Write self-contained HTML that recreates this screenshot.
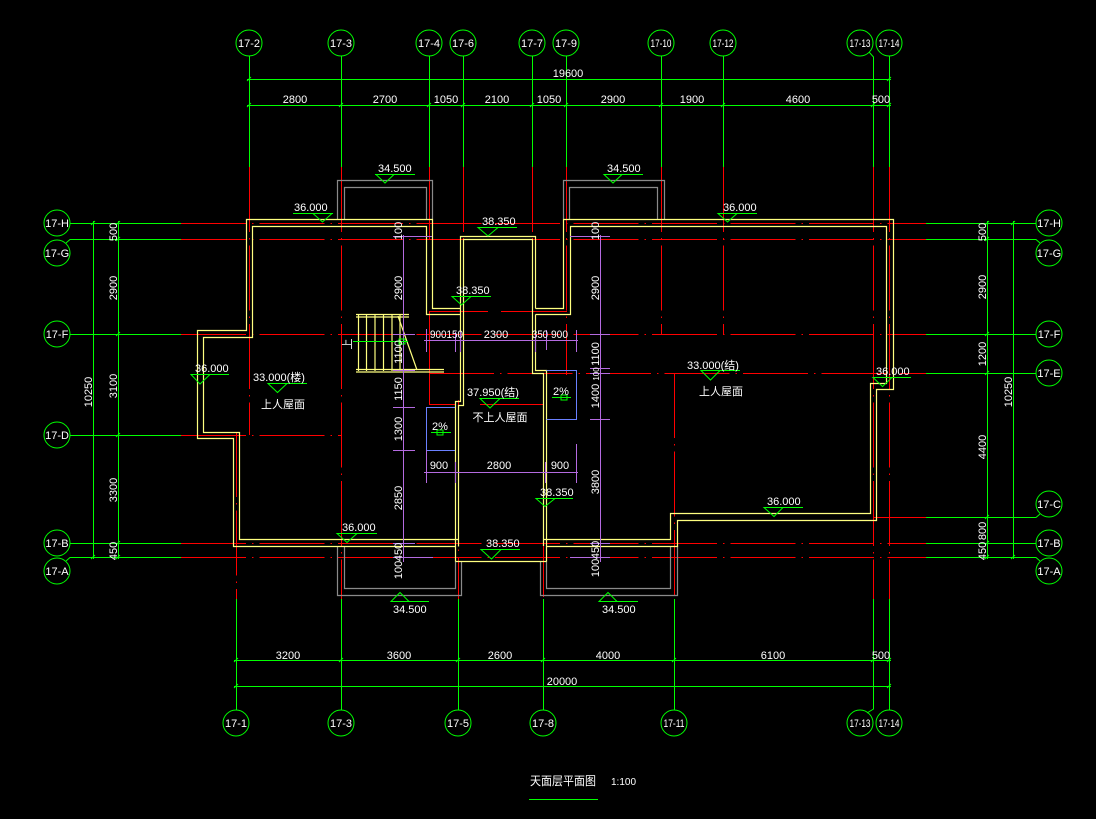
<!DOCTYPE html>
<html><head><meta charset="utf-8">
<style>
html,body{margin:0;padding:0;background:#000;}
svg{display:block}
text{font-family:"Liberation Sans","Noto Sans CJK SC",sans-serif;fill:#fff;font-size:11px}
.b{font-size:10px}
.s{font-size:8px}
.r{stroke:#ff0000;fill:none;stroke-width:1}
.rd{stroke:#ff0000;fill:none;stroke-width:1;stroke-dasharray:65 6 1.5 6}
.g{stroke:#00ff00;fill:none;stroke-width:1}
.y{stroke:#ffff80;fill:none;stroke-width:1.2}
.gr{stroke:#8a8a8a;fill:none;stroke-width:1.2}
.p{stroke:#b46ae0;fill:none;stroke-width:1}
.bl{stroke:#6a80ff;fill:none;stroke-width:1}
</style></head><body>
<svg width="1096" height="819" viewBox="0 0 1096 819" xmlns="http://www.w3.org/2000/svg">
<rect width="1096" height="819" fill="#000"/>

<!-- RED AXES horizontal -->
<g class="rd">
<line x1="181" y1="223.5" x2="926" y2="223.5"/>
<line x1="181" y1="239.5" x2="926" y2="239.5"/>
<line x1="181" y1="334.5" x2="926" y2="334.5"/>
<line x1="429" y1="373.5" x2="926" y2="373.5"/>
<line x1="181" y1="435.5" x2="341" y2="435.5"/>
<line x1="873" y1="517.5" x2="926" y2="517.5"/>
<line x1="181" y1="543.5" x2="926" y2="543.5"/>
<line x1="181" y1="557.5" x2="926" y2="557.5"/>
</g>
<!-- RED AXES vertical -->
<g class="rd">
<line x1="249.5" y1="167" x2="249.5" y2="435"/>
<line x1="236.5" y1="432" x2="236.5" y2="599"/>
<line x1="341.5" y1="167" x2="341.5" y2="599"/>
<line x1="463.5" y1="167" x2="463.5" y2="405"/>
<line x1="458.5" y1="400" x2="458.5" y2="599"/>
<line x1="532.5" y1="167" x2="532.5" y2="340"/>
<line x1="543.5" y1="375" x2="543.5" y2="599"/>
<line x1="566.5" y1="167" x2="566.5" y2="375"/>
<line x1="661.5" y1="167" x2="661.5" y2="334"/>
<line x1="674.5" y1="373" x2="674.5" y2="599"/>
<line x1="723.5" y1="167" x2="723.5" y2="334"/>
<line x1="873.5" y1="167" x2="873.5" y2="599"/>
<line x1="889.5" y1="167" x2="889.5" y2="599"/>
</g>
<g class="r">
<line x1="429.5" y1="167" x2="429.5" y2="240"/>
<line x1="429.5" y1="311" x2="429.5" y2="404"/>
<line x1="430" y1="311.5" x2="488" y2="311.5"/>
<line x1="501" y1="311.5" x2="567" y2="311.5"/>
<line x1="429" y1="404.5" x2="455" y2="404.5"/>
<line x1="480" y1="404.5" x2="543" y2="404.5"/>
<line x1="532.5" y1="167" x2="532.5" y2="220"/>
<line x1="566.5" y1="167" x2="566.5" y2="220"/>
</g>

<!-- GRAY BALCONIES -->
<g class="gr">
<polyline points="337.5,219 337.5,180.5 432.5,180.5 432.5,219"/>
<polyline points="344.5,219 344.5,187.5 426.5,187.5 426.5,219"/>
<polyline points="563.5,219 563.5,180.5 664.5,180.5 664.5,219"/>
<polyline points="569.5,219 569.5,187.5 657.5,187.5 657.5,219"/>
<polyline points="337.5,546 337.5,595.5 461.5,595.5 461.5,561"/>
<polyline points="344.5,546 344.5,588.5 455.5,588.5 455.5,561"/>
<polyline points="540.5,561 540.5,595.5 677.5,595.5 677.5,546"/>
<polyline points="546.5,561 546.5,588.5 670.5,588.5 670.5,546"/>
</g>

<!-- YELLOW WALLS -->
<g class="y">
<polyline points="455.5,546.5 233.5,546.5 233.5,438.5 197.5,438.5 197.5,330.5 246.5,330.5 246.5,219.5 432.5,219.5 432.5,308.5 460.5,308.5"/>
<polyline points="458.5,539.5 239.5,539.5 239.5,432.5 203.5,432.5 203.5,337.5 252.5,337.5 252.5,226.5 426.5,226.5 426.5,314.5 460.5,314.5"/>
<polyline points="455.5,561.5 455.5,401.5 460.5,401.5 460.5,236.5 535.5,236.5 535.5,308.5"/>
<polyline points="458.5,546.5 458.5,405.5 463.5,405.5 463.5,239.5 532.5,239.5 532.5,373.5 543.5,373.5 543.5,546"/>
<polyline points="535.5,314.5 535.5,370.5 546.5,370.5 546.5,561.5"/>
<line x1="455.5" y1="561.5" x2="546.5" y2="561.5"/>
<polyline points="535.5,308.5 563.5,308.5 563.5,219.5 893.5,219.5 893.5,389.5 876.5,389.5 876.5,520.5 677.5,520.5 677.5,546.5 546.5,546.5"/>
<polyline points="535.5,314.5 570.5,314.5 570.5,226.5 886.5,226.5 886.5,383.5 870.5,383.5 870.5,513.5 670.5,513.5 670.5,539.5 543.5,539.5"/>
<!-- stairs -->
<line x1="356" y1="314.5" x2="409" y2="314.5"/>
<line x1="356" y1="317" x2="409" y2="317"/>
<line x1="356" y1="369.5" x2="444" y2="369.5"/>
<line x1="356" y1="372" x2="444" y2="372"/>
<line x1="358.5" y1="315" x2="358.5" y2="371"/>
<line x1="366.5" y1="315" x2="366.5" y2="371"/>
<line x1="375" y1="315" x2="375" y2="371"/>
<line x1="383.5" y1="315" x2="383.5" y2="371"/>
<line x1="392" y1="315" x2="392" y2="371"/>
<line x1="400" y1="315" x2="400" y2="371"/>
<line x1="398" y1="316" x2="417" y2="370"/>
</g>

<!-- BLUE -->
<g class="bl">
<polyline points="455,407.5 426.5,407.5 426.5,450.5 455,450.5"/>
<polyline points="546.5,370.5 576.5,370.5 576.5,419.5 546.5,419.5"/>
</g>

<!-- PURPLE dims -->
<g class="p">
<line x1="403.5" y1="235" x2="403.5" y2="562"/>
<line x1="600.5" y1="235" x2="600.5" y2="562"/>
<line x1="393" y1="236.5" x2="432" y2="236.5"/>
<line x1="393" y1="334.5" x2="415" y2="334.5"/>
<line x1="393" y1="370.5" x2="415" y2="370.5"/>
<line x1="393" y1="407.5" x2="415" y2="407.5"/>
<line x1="393" y1="450.5" x2="415" y2="450.5"/>
<line x1="393" y1="543.5" x2="415" y2="543.5"/>
<line x1="393" y1="557.5" x2="433" y2="557.5"/>
<line x1="570" y1="236.5" x2="610" y2="236.5"/>
<line x1="590" y1="334.5" x2="610" y2="334.5"/>
<line x1="590" y1="368.5" x2="610" y2="368.5"/>
<line x1="590" y1="373.5" x2="610" y2="373.5"/>
<line x1="590" y1="419.5" x2="610" y2="419.5"/>
<line x1="590" y1="543.5" x2="610" y2="543.5"/>
<line x1="570" y1="557.5" x2="610" y2="557.5"/>
<line x1="424" y1="340.5" x2="578" y2="340.5"/>
<line x1="426.5" y1="329" x2="426.5" y2="352"/>
<line x1="455.5" y1="332" x2="455.5" y2="352"/>
<line x1="460.5" y1="332" x2="460.5" y2="352"/>
<line x1="535.5" y1="334" x2="535.5" y2="352"/>
<line x1="546.5" y1="330" x2="546.5" y2="350"/>
<line x1="576.5" y1="330" x2="576.5" y2="352"/>
<line x1="424" y1="472.5" x2="578" y2="472.5"/>
<line x1="426.5" y1="450" x2="426.5" y2="483"/>
<line x1="455.5" y1="462" x2="455.5" y2="483"/>
<line x1="545.5" y1="462" x2="545.5" y2="483"/>
<line x1="576.5" y1="444" x2="576.5" y2="483"/>
</g>

<!-- GREEN GRID EXTENSIONS -->
<g class="g">
<line x1="249.5" y1="56" x2="249.5" y2="167"/>
<line x1="341.5" y1="56" x2="341.5" y2="167"/>
<line x1="429.5" y1="56" x2="429.5" y2="167"/>
<line x1="463.5" y1="56" x2="463.5" y2="167"/>
<line x1="532.5" y1="56" x2="532.5" y2="167"/>
<line x1="566.5" y1="56" x2="566.5" y2="167"/>
<line x1="661.5" y1="56" x2="661.5" y2="167"/>
<line x1="723.5" y1="56" x2="723.5" y2="167"/>
<polyline points="873.5,167 873.5,57 869,52"/>
<line x1="889.5" y1="56" x2="889.5" y2="167"/>
<!-- top dims -->
<line x1="247" y1="79.5" x2="891" y2="79.5"/>
<line x1="247" y1="105.5" x2="891" y2="105.5"/>
<!-- bottom -->
<line x1="236.5" y1="599" x2="236.5" y2="710"/>
<line x1="341.5" y1="599" x2="341.5" y2="710"/>
<line x1="458.5" y1="599" x2="458.5" y2="710"/>
<line x1="543.5" y1="599" x2="543.5" y2="710"/>
<line x1="674.5" y1="599" x2="674.5" y2="710"/>
<polyline points="873.5,599 873.5,709 867,713"/>
<line x1="889.5" y1="599" x2="889.5" y2="710"/>
<line x1="234" y1="660.5" x2="891" y2="660.5"/>
<line x1="234" y1="686.5" x2="891" y2="686.5"/>
<!-- left -->
<line x1="70" y1="223.5" x2="181" y2="223.5"/>
<polyline points="181,239.5 70,239.5 66,243"/>
<line x1="70" y1="334.5" x2="181" y2="334.5"/>
<line x1="70" y1="435.5" x2="181" y2="435.5"/>
<line x1="70" y1="543.5" x2="181" y2="543.5"/>
<polyline points="181,557.5 70,557.5 66,561"/>
<line x1="93.5" y1="221" x2="93.5" y2="559"/>
<line x1="118.5" y1="221" x2="118.5" y2="559"/>
<!-- right -->
<line x1="926" y1="223.5" x2="1036" y2="223.5"/>
<polyline points="926,239.5 1036,239.5 1040,243"/>
<line x1="926" y1="334.5" x2="1036" y2="334.5"/>
<line x1="926" y1="373.5" x2="1036" y2="373.5"/>
<polyline points="926,517.5 1036,517.5 1040,514"/>
<line x1="926" y1="543.5" x2="1036" y2="543.5"/>
<polyline points="926,557.5 1036,557.5 1040,561"/>
<line x1="987.5" y1="221" x2="987.5" y2="559"/>
<line x1="1013.5" y1="221" x2="1013.5" y2="559"/>
<!-- title underline -->
<line x1="529" y1="799.5" x2="598" y2="799.5"/>
<!-- stair arrow -->
<line x1="353" y1="341.5" x2="408" y2="341.5"/>
<rect x="399" y="339" width="6" height="5"/>
<!-- 2% arrows -->
<line x1="431" y1="432.5" x2="451" y2="432.5"/>
<rect x="437" y="430" width="6" height="5"/>
<line x1="552" y1="397.5" x2="571" y2="397.5"/>
<rect x="561" y="395" width="6" height="5"/>
</g>

<!-- ticks -->
<g class="g">
<path d="M247,81 l4,-4 M887,81 l4,-4
M247,107 l4,-4 M339,107 l4,-4 M427,107 l4,-4 M461,107 l4,-4 M530,107 l4,-4 M564,107 l4,-4 M659,107 l4,-4 M721,107 l4,-4 M871,107 l4,-4 M887,107 l4,-4
M234,662 l4,-4 M339,662 l4,-4 M456,662 l4,-4 M541,662 l4,-4 M672,662 l4,-4 M871,662 l4,-4 M887,662 l4,-4
M234,688 l4,-4 M887,688 l4,-4
M91,225 l4,-4 M91,559 l4,-4
M116,225 l4,-4 M116,241 l4,-4 M116,336 l4,-4 M116,437 l4,-4 M116,545 l4,-4 M116,559 l4,-4
M985,225 l4,-4 M985,241 l4,-4 M985,336 l4,-4 M985,375 l4,-4 M985,519 l4,-4 M985,545 l4,-4 M985,559 l4,-4
M1011,225 l4,-4 M1011,559 l4,-4"/>
</g>

<!-- BUBBLES -->
<g class="g">
<circle cx="249" cy="43" r="13"/><circle cx="341" cy="43" r="13"/><circle cx="429" cy="43" r="13"/>
<circle cx="463" cy="43" r="13"/><circle cx="532" cy="43" r="13"/><circle cx="566" cy="43" r="13"/>
<circle cx="661" cy="43" r="13"/><circle cx="723" cy="43" r="13"/><circle cx="860" cy="43" r="13"/>
<circle cx="889" cy="43" r="13"/>
<circle cx="236" cy="723" r="13"/><circle cx="341" cy="723" r="13"/><circle cx="458" cy="723" r="13"/>
<circle cx="543" cy="723" r="13"/><circle cx="674" cy="723" r="13"/><circle cx="860" cy="723" r="13"/>
<circle cx="889" cy="723" r="13"/>
<circle cx="57" cy="223" r="13"/><circle cx="57" cy="253" r="13"/><circle cx="57" cy="334" r="13"/>
<circle cx="57" cy="435" r="13"/><circle cx="57" cy="543" r="13"/><circle cx="57" cy="571" r="13"/>
<circle cx="1049" cy="223" r="13"/><circle cx="1049" cy="253" r="13"/><circle cx="1049" cy="334" r="13"/>
<circle cx="1049" cy="373" r="13"/><circle cx="1049" cy="504" r="13"/><circle cx="1049" cy="543" r="13"/>
<circle cx="1049" cy="571" r="13"/>
</g>
<g class="b" text-anchor="middle">
<text x="249" y="47">17-2</text><text x="341" y="47">17-3</text><text x="429" y="47">17-4</text>
<text x="463" y="47">17-6</text><text x="532" y="47">17-7</text><text x="566" y="47">17-9</text>
<text x="661" y="47" textLength="21" lengthAdjust="spacingAndGlyphs">17-10</text>
<text x="723" y="47" textLength="21" lengthAdjust="spacingAndGlyphs">17-12</text>
<text x="860" y="47" textLength="21" lengthAdjust="spacingAndGlyphs">17-13</text>
<text x="889" y="47" textLength="21" lengthAdjust="spacingAndGlyphs">17-14</text>
<text x="236" y="727">17-1</text><text x="341" y="727">17-3</text><text x="458" y="727">17-5</text>
<text x="543" y="727">17-8</text>
<text x="674" y="727" textLength="21" lengthAdjust="spacingAndGlyphs">17-11</text>
<text x="860" y="727" textLength="21" lengthAdjust="spacingAndGlyphs">17-13</text>
<text x="889" y="727" textLength="21" lengthAdjust="spacingAndGlyphs">17-14</text>
<text x="57" y="227">17-H</text><text x="57" y="257">17-G</text><text x="57" y="338">17-F</text>
<text x="57" y="439">17-D</text><text x="57" y="547">17-B</text><text x="57" y="575">17-A</text>
<text x="1049" y="227">17-H</text><text x="1049" y="257">17-G</text><text x="1049" y="338">17-F</text>
<text x="1049" y="377">17-E</text><text x="1049" y="508">17-C</text><text x="1049" y="547">17-B</text>
<text x="1049" y="575">17-A</text>
</g>

<!-- DIM TEXT -->
<g text-anchor="middle">
<text x="568" y="77">19600</text>
<text x="295" y="103">2800</text><text x="385" y="103">2700</text><text x="446" y="103">1050</text>
<text x="497" y="103">2100</text><text x="549" y="103">1050</text><text x="613" y="103">2900</text>
<text x="692" y="103">1900</text><text x="798" y="103">4600</text><text x="881" y="103">500</text>
<text x="288" y="659">3200</text><text x="399" y="659">3600</text><text x="500" y="659">2600</text>
<text x="608" y="659">4000</text><text x="773" y="659">6100</text><text x="881" y="659">500</text>
<text x="562" y="685">20000</text>
<text transform="translate(117,232) rotate(-90)">500</text>
<text transform="translate(117,288) rotate(-90)">2900</text>
<text transform="translate(117,386) rotate(-90)">3100</text>
<text transform="translate(117,490) rotate(-90)">3300</text>
<text transform="translate(117,551) rotate(-90)">450</text>
<text transform="translate(92,392) rotate(-90)">10250</text>
<text transform="translate(986,232) rotate(-90)">500</text>
<text transform="translate(986,287) rotate(-90)">2900</text>
<text transform="translate(986,354) rotate(-90)">1200</text>
<text transform="translate(986,447) rotate(-90)">4400</text>
<text transform="translate(986,531) rotate(-90)">800</text>
<text transform="translate(986,551) rotate(-90)">450</text>
<text transform="translate(1012,392) rotate(-90)">10250</text>
<!-- purple dim labels -->
<text transform="translate(402,231) rotate(-90)">100</text>
<text transform="translate(402,288) rotate(-90)">2900</text>
<text transform="translate(402,352) rotate(-90)">1100</text>
<text transform="translate(402,389) rotate(-90)">1150</text>
<text transform="translate(402,429) rotate(-90)">1300</text>
<text transform="translate(402,498) rotate(-90)">2850</text>
<text transform="translate(402,552) rotate(-90)">450</text>
<text transform="translate(402,570) rotate(-90)">100</text>
<text transform="translate(599,231) rotate(-90)">100</text>
<text transform="translate(599,288) rotate(-90)">2900</text>
<text transform="translate(599,354) rotate(-90)">1100</text>
<text transform="translate(599,374) rotate(-90)" class="s">100</text>
<text transform="translate(599,396) rotate(-90)">1400</text>
<text transform="translate(599,482) rotate(-90)">3800</text>
<text transform="translate(599,550) rotate(-90)">450</text>
<text transform="translate(599,568) rotate(-90)">100</text>
<text x="496" y="338">2300</text>
<text x="439" y="469">900</text><text x="499" y="469">2800</text><text x="560" y="469">900</text>
</g>
<text x="430" y="338" textLength="33" lengthAdjust="spacingAndGlyphs">900150</text>
<text x="532" y="338" textLength="16" lengthAdjust="spacingAndGlyphs">350</text>
<text x="551" y="338" textLength="17" lengthAdjust="spacingAndGlyphs">900</text>

<!-- ELEVATION MARKERS -->
<g class="g">
<line x1="375" y1="174.5" x2="415" y2="174.5"/><polygon points="376,174.5 394,174.5 385,183"/>
<line x1="604" y1="174.5" x2="643" y2="174.5"/><polygon points="604,174.5 622,174.5 613,183"/>
<line x1="293" y1="213.5" x2="333" y2="213.5"/><polygon points="313,213.5 332,213.5 322.5,222"/>
<line x1="478" y1="227.5" x2="517" y2="227.5"/><polygon points="478,227.5 498,227.5 488,236"/>
<line x1="718" y1="213.5" x2="757" y2="213.5"/><polygon points="718,213.5 737,213.5 727.5,222"/>
<line x1="452" y1="296.5" x2="491" y2="296.5"/><polygon points="452,296.5 471,296.5 461.5,305"/>
<line x1="191" y1="374.5" x2="229" y2="374.5"/><polygon points="191,374.5 210,374.5 200,384"/>
<line x1="268" y1="383.5" x2="307" y2="383.5"/><polygon points="268,383.5 287,383.5 277.5,392.5"/>
<line x1="480" y1="398.5" x2="519" y2="398.5"/><polygon points="480,398.5 500,398.5 490,408"/>
<line x1="536" y1="498.5" x2="573" y2="498.5"/><polygon points="536,498.5 555,498.5 545,506.5"/>
<line x1="481" y1="549.5" x2="520" y2="549.5"/><polygon points="481,549.5 501,549.5 491.5,559"/>
<line x1="337" y1="533.5" x2="377" y2="533.5"/><polygon points="337,533.5 357,533.5 347,542.5"/>
<line x1="391" y1="601.5" x2="429" y2="601.5"/><polygon points="391,601.5 409,601.5 400,592.5"/>
<line x1="599" y1="601.5" x2="638" y2="601.5"/><polygon points="599,601.5 617,601.5 608,592.5"/>
<line x1="764" y1="507.5" x2="803" y2="507.5"/><polygon points="764,507.5 783,507.5 774,516.5"/>
<line x1="701" y1="370.5" x2="740" y2="370.5"/><polygon points="701,370.5 720,370.5 710.5,380"/>
<line x1="873" y1="377.5" x2="911" y2="377.5"/><polygon points="873,377.5 892,377.5 882.5,386.5"/>
</g>
<text x="378" y="172">34.500</text>
<text x="607" y="172">34.500</text>
<text x="294" y="211">36.000</text>
<text x="482" y="225">38.350</text>
<text x="723" y="211">36.000</text>
<text x="456" y="294">38.350</text>
<text x="195" y="372">36.000</text>
<text x="253" y="381">33.000(楼)</text>
<text x="467" y="396">37.950(结)</text>
<text x="540" y="496">38.350</text>
<text x="486" y="547">38.350</text>
<text x="342" y="531">36.000</text>
<text x="393" y="613">34.500</text>
<text x="602" y="613">34.500</text>
<text x="767" y="505">36.000</text>
<text x="687" y="369">33.000(结)</text>
<text x="876" y="375">36.000</text>
<g class="s" text-anchor="middle">
<text x="283" y="408">上人屋面</text>
<text x="500" y="421">不上人屋面</text>
<text x="721" y="395">上人屋面</text>
<text x="440" y="430">2%</text>
<text x="561" y="395">2%</text>
<text transform="translate(351,344) rotate(-90)">上</text>
</g>

<!-- TITLE -->
<text x="530" y="785" style="font-size:12px" textLength="66" lengthAdjust="spacingAndGlyphs">天面层平面图</text>
<text x="611" y="785" style="font-size:10px">1:100</text>
</svg>
</body></html>
